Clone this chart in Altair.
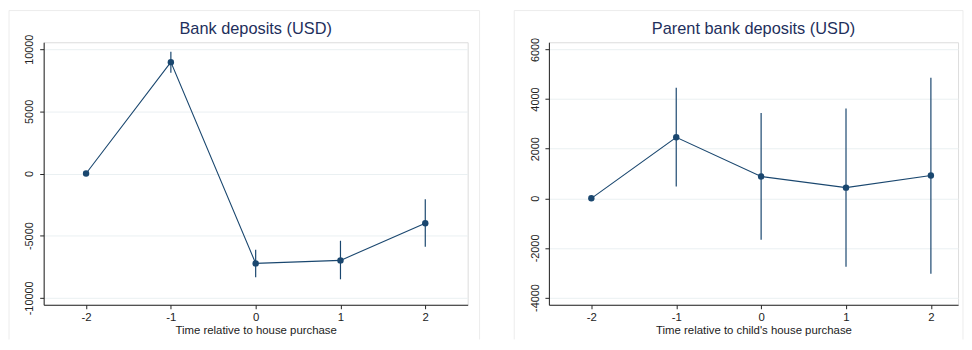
import altair as alt
import pandas as pd

# ---- data ----
periods = [-2, -1, 0, 1, 2]

left_title = "Bank deposits (USD)"
left_xlabel = "Time relative to house purchase"
left_est = [0, 8960, -7230, -6990, -4000]
left_lo = [0, 8110, -8350, -8510, -5890]
left_hi = [0, 9790, -6130, -5410, -2080]
left_yticks = [-10000, -5000, 0, 5000, 10000]

right_title = "Parent bank deposits (USD)"
right_xlabel = "Time relative to child's house purchase"
right_est = [0, 2460, 880, 430, 920]
right_lo = [0, 480, -1665, -2760, -3040]
right_hi = [0, 4460, 3435, 3620, 4860]
right_yticks = [-4000, -2000, 0, 2000, 4000, 6000]

NAVY = "#1a476f"
TITLE_C = "#1e2f5c"
GRID_C = "#eaf0f2"
FRAME_C = "#ececec"
FONT = "Liberation Sans"


def panel(title, xlabel, est, lo, hi, yticks, ydom, xdom, width, height, right_edge):
    df = pd.DataFrame({"t": periods, "est": est, "lo": lo, "hi": hi})
    one = alt.Chart(pd.DataFrame({"k": [0]}))
    x = alt.X("t:Q", scale=alt.Scale(domain=xdom, nice=False, zero=False),
              axis=alt.Axis(values=periods, title=xlabel, grid=False,
                            labelExpr="'' + datum.value", tickSize=4,
                            labelPadding=3, titlePadding=2,
                            labelFontSize=11.5, titleFontSize=11.5,
                            labelFont=FONT, titleFont=FONT,
                            labelColor="#222", titleColor="#222",
                            titleFontWeight="normal",
                            domainColor="#222", tickColor="#222"))
    y = alt.Y("est:Q", scale=alt.Scale(domain=ydom, nice=False, zero=False),
              axis=alt.Axis(values=yticks, title=None, grid=True, gridColor=GRID_C,
                            labelExpr="'' + datum.value", labelAngle=-90,
                            labelAlign="center", labelBaseline="bottom",
                            tickSize=4, labelPadding=5, labelFontSize=11,
                            labelFont=FONT, labelColor="#222",
                            domainColor="#222", tickColor="#222"))
    base = alt.Chart(df)
    bars = base.mark_rule(color=NAVY, strokeWidth=1.2).encode(
        x=x, y=alt.Y("lo:Q", scale=alt.Scale(domain=ydom, nice=False, zero=False)), y2="hi:Q")
    line = base.mark_line(color=NAVY, strokeWidth=1.1).encode(x=x, y=y)
    pts = base.mark_circle(color=NAVY, opacity=1, size=42).encode(x=x, y=y)
    ttl = one.mark_text(text=title, font=FONT, fontSize=16.5, color=TITLE_C,
                        align="center", baseline="alphabetic").encode(
        x=alt.value(width / 2), y=alt.value(-8))
    frame_top = one.mark_rule(color=FRAME_C, strokeWidth=1).encode(
        x=alt.value(-35), x2=alt.value(right_edge), y=alt.value(-32))
    frame_left = one.mark_rule(color=FRAME_C, strokeWidth=1).encode(
        x=alt.value(-35), y=alt.value(-32), y2=alt.value(300))
    layers = [frame_top, frame_left]
    if right_edge < width + 20:
        layers.append(one.mark_rule(color=FRAME_C, strokeWidth=1).encode(
            x=alt.value(right_edge), y=alt.value(-32), y2=alt.value(300)))
    layers += [bars, line, pts, ttl]
    return alt.layer(*layers).properties(width=width, height=height)


left = panel(left_title, left_xlabel, left_est, left_lo, left_hi, left_yticks,
             [-10560, 10560], [-2.5, 2.5], 428, 265, 440)
right = panel(right_title, right_xlabel, right_est, right_lo, right_hi, right_yticks,
              [-4290, 6290], [-2.5, 2.32], 413, 265, 418)

chart = alt.hconcat(left, right, spacing=33).properties(
    padding={"left": 0, "top": 0, "right": 0, "bottom": 0}
).configure_view(stroke=None).configure(background="white")

chart.save("out.html", embed_options={"renderer": "svg", "actions": False})
